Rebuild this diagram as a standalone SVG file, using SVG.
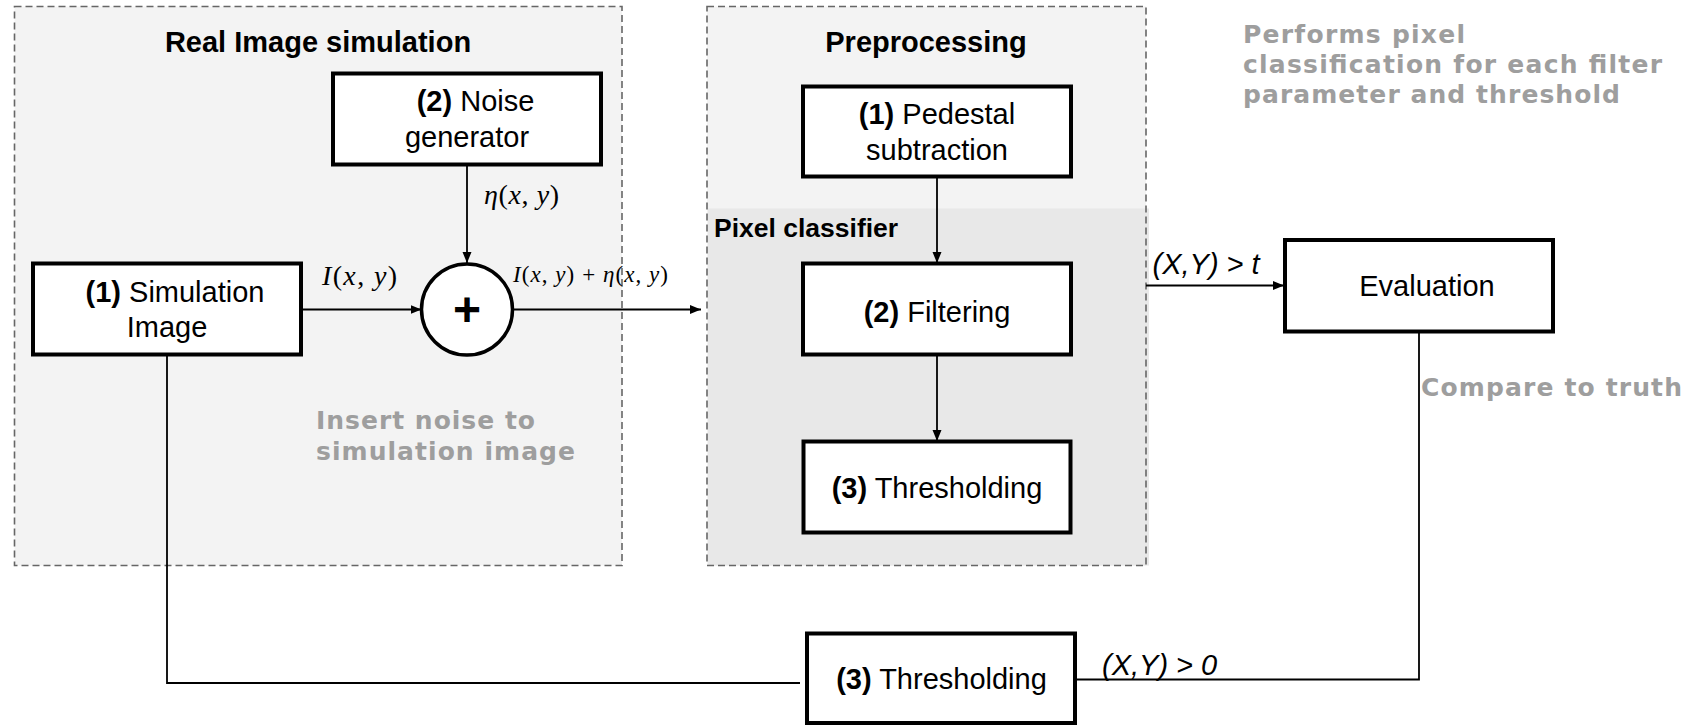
<svg xmlns="http://www.w3.org/2000/svg" width="1695" height="725" viewBox="0 0 1695 725">
  <defs>
    <marker id="arrow" markerUnits="userSpaceOnUse" markerWidth="12" markerHeight="10" refX="11" refY="4.5" orient="auto">
      <path d="M0,0 L11,4.5 L0,9 z" fill="#000"/>
    </marker>
    <style>
      .container { fill: #f3f3f3; stroke: none; }
      .border { fill: none; stroke: #666; stroke-width: 1.6; stroke-dasharray: 7 4; }
      .box { fill: #fff; stroke: #000; stroke-width: 4; }
      .title { font-family: "Liberation Sans", Arial, sans-serif; font-weight: bold; font-size: 29px; fill: #000; }
      .label { font-family: "Liberation Sans", Arial, sans-serif; font-size: 29px; fill: #000; }
      .label .b { font-weight: bold; }
      .edge { fill: none; stroke: #000; stroke-width: 1.8; }
      .elabel { font-family: "Liberation Sans", Arial, sans-serif; font-style: italic; font-size: 29px; fill: #000; }
      .math { font-family: "Liberation Serif", "Times New Roman", serif; fill: #000; }
      .math .v { font-style: italic; }
      .note { font-family: "DejaVu Sans", "Open Sans", sans-serif; font-weight: bold; font-size: 25px; fill: #9e9e9e; }
    </style>
  </defs>

  <!-- Containers -->
  <g id="real-image-simulation">
    <rect class="container" x="14.5" y="6.5" width="607.5" height="559"/>
    <rect class="border" x="14.5" y="6.5" width="607.5" height="559"/>
    <text class="title" x="318" y="51.5" text-anchor="middle">Real Image simulation</text>
  </g>
  <g id="preprocessing">
    <rect class="container" x="707" y="6.5" width="439" height="559"/>
    <rect x="708" y="208.5" width="441" height="357" fill="#e8e8e8"/>
    <rect class="border" x="707" y="6.5" width="439" height="559"/>
    <text class="title" x="926" y="51.5" text-anchor="middle">Preprocessing</text>
    <text class="title" x="714" y="237" style="font-size:26.5px">Pixel classifier</text>
  </g>

  <!-- Annotations -->
  <g id="annotations">
    <text class="note" x="1243" y="42.5" textLength="222">Performs pixel</text>
    <text class="note" x="1243" y="72.5" textLength="419">classification for each filter</text>
    <text class="note" x="1243" y="102.5" textLength="377">parameter and threshold</text>
    <text class="note" x="316" y="429" textLength="219">Insert noise to</text>
    <text class="note" x="316" y="460" textLength="259">simulation image</text>
    <text class="note" x="1421" y="396" textLength="261">Compare to truth</text>
  </g>

  <!-- Connectors -->
  <g id="connectors">
    <line class="edge" x1="467" y1="165.5" x2="467" y2="263" marker-end="url(#arrow)"/>
    <line class="edge" x1="301" y1="309.5" x2="421.5" y2="309.5" marker-end="url(#arrow)"/>
    <line class="edge" x1="512.5" y1="309.5" x2="701" y2="309.5" marker-end="url(#arrow)"/>
    <line class="edge" x1="937" y1="176.5" x2="937" y2="263" marker-end="url(#arrow)"/>
    <line class="edge" x1="937" y1="354.5" x2="937" y2="441" marker-end="url(#arrow)"/>
    <line class="edge" x1="1146" y1="285.5" x2="1284" y2="285.5" marker-end="url(#arrow)"/>
    <polyline class="edge" points="167,354.5 167,683 800,683"/>
    <polyline class="edge" points="1075,679.5 1419,679.5 1419,331.5"/>

    <text class="math" x="322" y="284.5" font-size="28" textLength="75"><tspan class="v">I</tspan>(<tspan class="v">x</tspan>, <tspan class="v">y</tspan>)</text>
    <text class="math" x="484" y="204" font-size="28" textLength="75"><tspan class="v">η</tspan>(<tspan class="v">x</tspan>, <tspan class="v">y</tspan>)</text>
    <text class="math" x="513" y="282" font-size="23" textLength="155"><tspan class="v">I</tspan>(<tspan class="v">x</tspan>, <tspan class="v">y</tspan>) + <tspan class="v">η</tspan>(<tspan class="v">x</tspan>, <tspan class="v">y</tspan>)</text>
    <text class="elabel" x="1152.5" y="274">(X,Y) &gt; t</text>
    <text class="elabel" x="1102" y="674.5">(X,Y) &gt; 0</text>
  </g>

  <!-- Nodes -->
  <g id="noise-generator">
    <rect class="box" x="333" y="73.5" width="268" height="91"/>
    <text class="label" x="475.5" y="110.5" text-anchor="middle"><tspan class="b">(2)</tspan> Noise</text>
    <text class="label" x="467" y="146.5" text-anchor="middle">generator</text>
  </g>
  <g id="simulation-image">
    <rect class="box" x="33" y="263.5" width="268" height="91"/>
    <text class="label" x="175" y="301.5" text-anchor="middle"><tspan class="b">(1)</tspan> Simulation</text>
    <text class="label" x="167" y="337" text-anchor="middle">Image</text>
  </g>
  <g id="sum">
    <circle cx="467" cy="309.5" r="45.5" fill="#fff" stroke="#000" stroke-width="3.5"/>
    <text x="467" y="326" text-anchor="middle" font-family="Liberation Sans, Arial, sans-serif" font-weight="bold" font-size="48">+</text>
  </g>
  <g id="pedestal-subtraction">
    <rect class="box" x="803" y="86.5" width="268" height="90"/>
    <text class="label" x="937" y="123.5" text-anchor="middle"><tspan class="b">(1)</tspan> Pedestal</text>
    <text class="label" x="937" y="159.5" text-anchor="middle">subtraction</text>
  </g>
  <g id="filtering">
    <rect class="box" x="803" y="263.5" width="268" height="91"/>
    <text class="label" x="937" y="322" text-anchor="middle"><tspan class="b">(2)</tspan> Filtering</text>
  </g>
  <g id="thresholding-inner">
    <rect class="box" x="803.5" y="441.5" width="267" height="91"/>
    <text class="label" x="937" y="497.5" text-anchor="middle"><tspan class="b">(3)</tspan> Thresholding</text>
  </g>
  <g id="evaluation">
    <rect class="box" x="1285" y="240" width="268" height="91.5"/>
    <text class="label" x="1427" y="296" text-anchor="middle">Evaluation</text>
  </g>
  <g id="thresholding-truth">
    <rect class="box" x="807" y="633.5" width="268" height="89.5"/>
    <text class="label" x="941.5" y="689" text-anchor="middle"><tspan class="b">(3)</tspan> Thresholding</text>
  </g>
</svg>
